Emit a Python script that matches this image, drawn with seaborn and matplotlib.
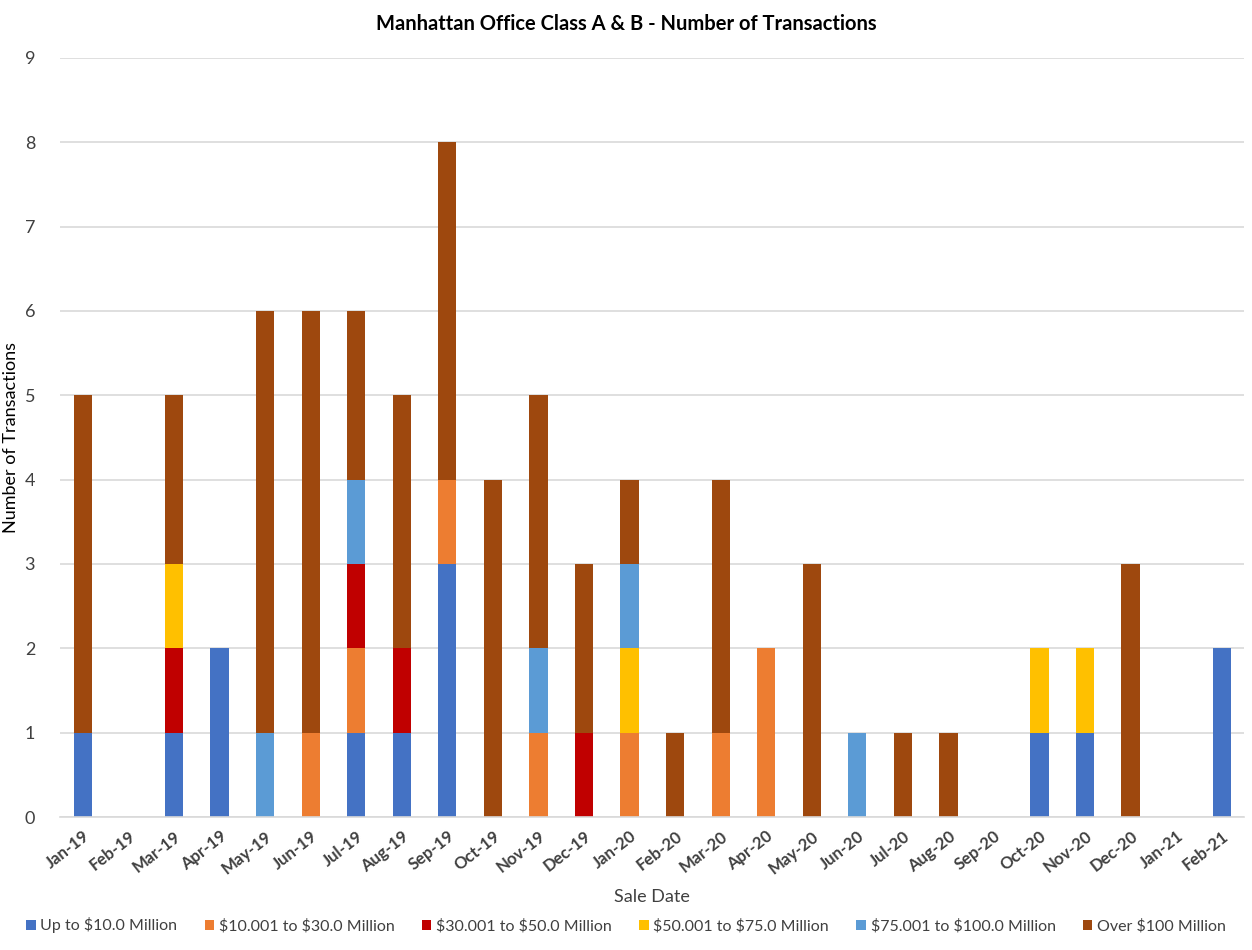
import numpy as np
import pandas as pd
import matplotlib.pyplot as plt
import seaborn as sns
from matplotlib.patches import Patch

# Sale months and counts per price band
months = ['Jan-19', 'Feb-19', 'Mar-19', 'Apr-19', 'May-19', 'Jun-19', 'Jul-19', 'Aug-19',
          'Sep-19', 'Oct-19', 'Nov-19', 'Dec-19', 'Jan-20', 'Feb-20', 'Mar-20', 'Apr-20',
          'May-20', 'Jun-20', 'Jul-20', 'Aug-20', 'Sep-20', 'Oct-20', 'Nov-20', 'Dec-20',
          'Jan-21', 'Feb-21']
up_to_10 = [1, 0, 1, 2, 0, 0, 1, 1, 3, 0, 0, 0, 0, 0, 0, 0, 0, 0, 0, 0, 0, 1, 1, 0, 0, 2]
m10_30 = [0, 0, 0, 0, 0, 1, 1, 0, 1, 0, 1, 0, 1, 0, 1, 2, 0, 0, 0, 0, 0, 0, 0, 0, 0, 0]
m30_50 = [0, 0, 1, 0, 0, 0, 1, 1, 0, 0, 0, 1, 0, 0, 0, 0, 0, 0, 0, 0, 0, 0, 0, 0, 0, 0]
m50_75 = [0, 0, 1, 0, 0, 0, 0, 0, 0, 0, 0, 0, 1, 0, 0, 0, 0, 0, 0, 0, 0, 1, 1, 0, 0, 0]
m75_100 = [0, 0, 0, 0, 1, 0, 1, 0, 0, 0, 1, 0, 1, 0, 0, 0, 0, 1, 0, 0, 0, 0, 0, 0, 0, 0]
over_100 = [4, 0, 2, 0, 5, 5, 2, 3, 4, 4, 3, 2, 1, 1, 3, 0, 3, 0, 1, 1, 0, 0, 0, 3, 0, 0]

series_names = ['Up to \\$10.0 Million', '\\$10.001 to \\$30.0 Million', '\\$30.001 to \\$50.0 Million',
                '\\$50.001 to \\$75.0 Million', '\\$75.001 to \\$100.0 Million', 'Over \\$100 Million']
series_values = [up_to_10, m10_30, m30_50, m50_75, m75_100, over_100]
colors = ['#4472C4', '#ED7D31', '#C00000', '#FFC000', '#5B9BD5', '#9E480E']

sns.set_style("white")
plt.rcParams['font.family'] = ['Lato', 'DejaVu Sans']

fig = plt.figure(figsize=(12.52, 9.5), dpi=100)
ax = fig.add_axes([0.048, 0.14, 0.946, 0.799])

# Stacked bars: draw cumulative totals from the top series down
cum = np.cumsum(np.array(series_values), axis=0)
for i in range(len(series_names) - 1, -1, -1):
    df = pd.DataFrame({'month': months, 'value': cum[i]})
    sns.barplot(data=df, x='month', y='value', color=colors[i], width=0.4,
                saturation=1, errorbar=None, ax=ax, zorder=2, linewidth=0)

ax.set_ylim(0, 9)
ax.set_xlim(-0.5, len(months) - 0.5)
ax.set_yticks(range(10))
ax.yaxis.grid(True, color='#d9d9d9', linewidth=1.2, zorder=0)
ax.set_axisbelow(True)
for s in ['top', 'right', 'left']:
    ax.spines[s].set_visible(False)
ax.spines['bottom'].set_color('#d9d9d9')
ax.spines['bottom'].set_linewidth(1.2)

ax.tick_params(axis='y', length=0, labelsize=13, labelcolor='#404040', pad=18)
ax.set_xticks(range(len(months)))
ax.set_xticklabels(months, rotation=38, ha='right', rotation_mode='anchor',
                   fontsize=12, fontweight='bold', color='#404040')
ax.tick_params(axis='x', which='major', length=0, pad=8)
ax.set_xticks(np.arange(-0.5, len(months), 1), minor=True)
ax.tick_params(axis='x', which='minor', length=5, color='#d9d9d9', width=1.2)

ax.set_xlabel('Sale Date', fontsize=13, color='#404040', labelpad=9)
ax.set_ylabel('Number of Transactions', fontsize=13, color='#000000', labelpad=4)
fig.suptitle('Manhattan Office Class A & B - Number of Transactions', fontsize=14.5,
             fontweight='bold', y=0.985, color='#000000')

handles = [Patch(facecolor=c, edgecolor='none') for c in colors]
fig.legend(handles, series_names, loc='center', bbox_to_anchor=(0.5, 0.026), ncol=6,
           frameon=False, fontsize=11.5, handlelength=0.6, handleheight=0.6,
           handletextpad=0.3, columnspacing=1.7, labelcolor='#404040')

fig.savefig('out.png', dpi=100, facecolor='white')
